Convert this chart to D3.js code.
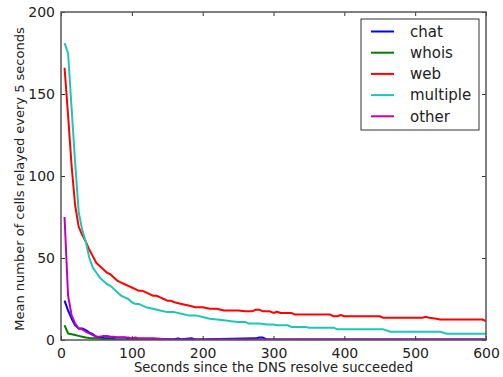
<!DOCTYPE html>
<html>
<head>
<meta charset="utf-8">
<script src="https://cdn.jsdelivr.net/npm/d3@7"></script>
<style>
body { margin: 0; background: #fff; }
text { font-family: "DejaVu Sans", sans-serif; fill: #222; }
</style>
</head>
<body>
<svg></svg>
<script>
// series: [seconds, mean cells]
var chat = [[5,24],[10,18],[15,13],[20,9],[25,7],[30,7],[35,6],[40,4.5],[45,3.5],[50,2],[55,1.5],[60,1.2],[70,1],[80,1.5],[90,1.5],[95,1],[100,0.5],[160,0.5],[165,1],[170,0.5],[185,1],[190,0.3],[275,1],[280,1.5],[285,1.5],[290,0.5],[300,0.3],[600,0.3]]
var whois = [[5,9],[10,4],[15,3.5],[20,3],[25,2.5],[30,2],[35,1.5],[40,1.2],[45,1],[50,1],[55,0.8],[60,0.5],[70,0.3],[80,0.1],[600,0.1]]
var web = [[5,166],[10,137],[15,106],[20,82],[25,69],[30,64],[35,60],[40,55],[45,51],[50,47],[55,45],[60,43],[65,41],[70,40],[75,38],[80,36],[85,35],[90,34],[95,33],[100,32],[105,31],[110,30],[115,30],[120,29],[125,28],[130,27],[135,27],[140,26],[145,25],[150,24],[155,24],[160,23],[170,22],[180,21],[190,20],[200,20],[210,19],[220,19],[230,18],[240,18],[250,18],[260,17.5],[270,17.5],[275,18.5],[280,18.5],[285,17.5],[295,17.5],[300,16.5],[305,17.2],[310,16.5],[325,16.5],[330,15.5],[380,15.5],[385,14.5],[390,14.5],[395,15.2],[400,14.5],[450,14.5],[455,13.5],[510,13.5],[515,14.2],[520,13.5],[530,13],[535,12.5],[595,12.5],[600,11.5]]
var multiple = [[5,181],[10,175],[15,141],[20,108],[25,78],[30,67],[35,60],[40,50],[45,44],[50,41],[55,38],[60,36],[65,34],[70,33],[75,31],[80,29],[85,27],[90,26],[95,25],[100,23],[105,22],[110,22],[115,21],[120,20],[130,19],[140,18],[150,17],[160,17],[170,16],[180,15],[190,15],[200,14],[210,13],[220,12.5],[230,12],[240,11.5],[250,11],[260,11],[265,10],[280,10],[290,9.5],[300,9.5],[305,9],[320,9],[325,8],[345,8],[350,7.5],[385,7.5],[390,6.5],[455,6.5],[465,5],[535,5],[545,3.8],[600,3.8]]
var other = [[5,75],[10,27],[15,15],[20,10],[25,7],[30,6.5],[35,5],[40,4],[45,3],[50,2],[55,2],[60,2.5],[65,2.5],[70,2],[75,2],[80,1.5],[95,1.5],[100,1],[105,1.5],[110,1],[130,1],[140,0.8],[150,0.5],[600,0.3]]

var names = ["chat","whois","web","multiple","other"]
var colors = ["#0000ff","#008000","#ff0000","#1fc6b8","#bf00bf"]
var allSeries = [chat, whois, web, multiple, other]
var xTicks = [0,100,200,300,400,500,600]
var yTicks = [0,50,100,150,200]

var screen = {width:503, height:377}
var margin = {left:61, top:12, right:17, bottom:37}
var w = screen.width - margin.left - margin.right
var h = screen.height - margin.top - margin.bottom

var svg = d3.select("svg")
    .attr("width", screen.width)
    .attr("height", screen.height)

var xScale = d3.scaleLinear().domain([0,600]).range([0,w])
var yScale = d3.scaleLinear().domain([0,200]).range([h,0])

var g = svg.append("g").attr("transform","translate("+margin.left+","+margin.top+")")

g.append("clipPath").attr("id","clip")
    .append("rect").attr("width",w).attr("height",h)

var line = d3.line()
    .x(function(d){return xScale(d[0])})
    .y(function(d){return yScale(d[1])})

g.append("g").attr("clip-path","url(#clip)")
    .selectAll("path")
    .data(allSeries)
    .enter()
    .append("path")
    .attr("d", line)
    .attr("fill","none")
    .attr("stroke", function(d,i){return colors[i]})
    .attr("stroke-width", 2)
    .attr("stroke-linejoin","round")

// axes, ticks pointing inward like classic matplotlib
var styleAxis = function(sel) {
    sel.select(".domain").remove()
    sel.selectAll(".tick line").attr("stroke","#333").attr("stroke-width",1)
    sel.selectAll("text").style("font-size","14px").attr("fill","#222")
}

g.append("g").attr("transform","translate(0,"+h+")")
    .call(d3.axisBottom(xScale).tickValues(xTicks).tickSize(-4).tickPadding(8))
    .call(styleAxis)
g.append("g")
    .call(d3.axisTop(xScale).tickValues(xTicks).tickSize(-4).tickFormat(""))
    .call(styleAxis)
g.append("g")
    .call(d3.axisLeft(yScale).tickValues(yTicks).tickSize(-4).tickPadding(6))
    .call(styleAxis)
g.append("g").attr("transform","translate("+w+",0)")
    .call(d3.axisRight(yScale).tickValues(yTicks).tickSize(-4).tickFormat(""))
    .call(styleAxis)

g.append("rect")
    .attr("width",w).attr("height",h)
    .attr("fill","none").attr("stroke","#555").attr("stroke-width",1.5)

svg.append("text")
    .attr("x", margin.left + w/2).attr("y", 372)
    .attr("text-anchor","middle")
    .style("font-size","13.2px")
    .text("Seconds since the DNS resolve succeeded")

svg.append("text")
    .attr("transform","translate(24,"+(margin.top + h/2 + 3)+") rotate(-90)")
    .attr("text-anchor","middle")
    .style("font-size","13px")
    .text("Mean number of cells relayed every 5 seconds")

// legend
var legend = svg.append("g").attr("transform","translate(361,19)")
legend.append("rect")
    .attr("width",118).attr("height",111)
    .attr("fill","#fff").attr("stroke","#333").attr("stroke-width",1)
var items = legend.selectAll(".item")
    .data(names)
    .enter()
    .append("g")
    .attr("transform", function(d,i){return "translate(0,"+(12.5 + i*21.2)+")"})
items.append("line")
    .attr("x1",10).attr("x2",33)
    .attr("stroke", function(d,i){return colors[i]})
    .attr("stroke-width",2)
items.append("text")
    .attr("x",49).attr("dy","0.35em")
    .style("font-size","15px")
    .text(function(d){return d})
</script>
</body>
</html>
